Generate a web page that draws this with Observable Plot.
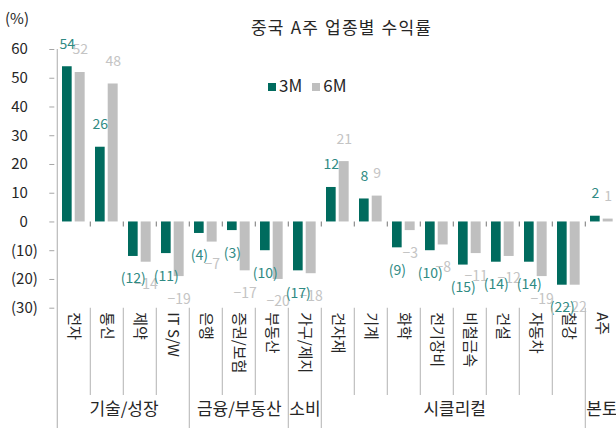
<!DOCTYPE html>
<html>
<head>
<meta charset="utf-8">
<script src="https://cdn.jsdelivr.net/npm/d3@7"></script>
<script src="https://cdn.jsdelivr.net/npm/@observablehq/plot@0.6"></script>
<style>
  html, body { margin: 0; padding: 0; background: #fff; overflow: hidden; }
  #wrap { position: relative; width: 616px; height: 428px; font-family: "Noto Sans CJK KR", "Noto Sans", sans-serif; color: #262626; }
  #wrap svg { position: absolute; left: 0; top: 0; }
  .abs { position: absolute; white-space: nowrap; line-height: 1; }
  .sw { display: inline-block; width: 8px; height: 8px; }
</style>
</head>
<body>
<div id="wrap">
  <div id="chart"></div>
  <div class="abs" style="left:5px; top:10px; font-size:15px;">(%)</div>
  <div class="abs" id="title" style="left:251px; top:18px; font-size:17px; letter-spacing:1.2px; word-spacing:1px;"></div>
  <div class="abs" id="legend" style="left:268px; top:76px; font-size:17px;"></div>
</div>
<script>
const title = "중국 A주 업종별 수익률";
const categories = ["전자","통신","제약","IT S/W","은행","증권/보험","부동산","가구/제지","건자재","기계","화학","전기장비","비철금속","건설","자동차","철강","A주"];
const v3M = [54, 26, -12, -11, -4, -3, -10, -17, 12, 8, -9, -10, -15, -14, -14, -22, 2];
const v6M = [52, 48, -14, -19, -7, -17, -20, -18, 21, 9, -3, -8, -11, -12, -19, -22, 1];
const groups = ["기술/성장", "금융/부동산", "소비", "시클리컬", "본토"];
const groupSizes = [4, 3, 1, 8, 1];
const yTicks = [60, 50, 40, 30, 20, 10, 0, -10, -20, -30];
const seriesNames = ["3M", "6M"];
const colors = { "3M": "#006B5E", "6M": "#BFBFBF" };
const labelColors = { "3M": "#2F8A83", "6M": "#C4C4C4" };

document.getElementById("title").textContent = title;
document.getElementById("legend").innerHTML = seriesNames.map((s, i) =>
  `<span style="margin-right:${i === 0 ? 10 : 0}px"><span class="sw" style="background:${colors[s]}; margin-right:3px; vertical-align:1px"></span>${s}</span>`
).join("");

const W = 616, H = 428;
const mTop = 49, mBottom = 120.3, mLeft = 54.3;
const xRange = [mLeft, 621];
const bw = (xRange[1] - xRange[0]) / categories.length;
const plotH = H - mTop - mBottom;
const yPerPx = 90 / plotH;
const bottomPx = H - mBottom;
const yAt = px => -30 + (bottomPx - px) * yPerPx;

const rows3 = categories.map((c, i) => ({cat: c, v: v3M[i]}));
const rows6 = categories.map((c, i) => ({cat: c, v: v6M[i]}));

const groupStarts = [];
let acc = 0;
groupSizes.forEach(n => { groupStarts.push(acc); acc += n; });
const groupRows = groups.map((g, i) => ({g, start: categories[groupStarts[i]], size: groupSizes[i]}));

const boundaries = categories.map((c, i) => ({cat: c, i, full: groupStarts.includes(i)}));

const fmt3 = v => v < 0 ? `(${Math.abs(v)})` : `${v}`;
const fmt6 = v => v < 0 ? `\u2212${Math.abs(v)}` : `${v}`;

const greenDx = -bw / 2 + 10;
const grayDx = -bw / 2 + 22.85;
const off = 22.5;

const groupMarks = groupRows.map(r =>
  Plot.text([r], { x: "start", text: "g", dx: r.size * bw / 2 - bw / 2, frameAnchor: "bottom", dy: 107, fontSize: 17, fill: "#262626" })
);

const plot = Plot.plot({
  width: W,
  height: H,
  marginTop: mTop,
  marginBottom: mBottom,
  marginLeft: mLeft,
  marginRight: 0,
  style: { fontFamily: "'Noto Sans CJK KR', 'Noto Sans', sans-serif", background: "transparent", overflow: "hidden" },
  x: { domain: categories, range: xRange, padding: 0, axis: null },
  y: { domain: [-30, 60], axis: null },
  marks: [
    Plot.ruleX([categories[0]], { x: d => d, dx: -bw / 2, y1: 60, y2: yAt(H), stroke: "#BFBFBF", strokeWidth: 1.3 }),
    Plot.barY(rows3, { x: "cat", y: "v", fill: colors["3M"], insetLeft: 5, insetRight: bw - 15 }),
    Plot.barY(rows6, { x: "cat", y: "v", fill: colors["6M"], insetLeft: 17.7, insetRight: bw - 28 }),
    Plot.ruleY([0], { x1: categories[0], x2: categories[categories.length - 1], stroke: "#8C8C8C", strokeWidth: 1.3, insetLeft: -bw / 2, insetRight: -bw / 2 }),
    Plot.ruleX(boundaries.filter(d => d.i > 0), { x: "cat", dx: -bw / 2, y1: 0, y2: yAt(226.5), stroke: "#8C8C8C", strokeWidth: 1.2 }),
    Plot.axisY(yTicks.filter(d => d >= 0), { ticks: yTicks.filter(d => d >= 0), tickSize: 5, tickPadding: 22, fontSize: 15, stroke: "#A6A6A6", color: "#262626", tickFormat: d => `${d}`, label: null }),
    Plot.axisY(yTicks.filter(d => d < 0), { ticks: yTicks.filter(d => d < 0), tickSize: 5, tickPadding: 12, fontSize: 15, stroke: "#A6A6A6", color: "#262626", tickFormat: d => `(${Math.abs(d)})`, label: null }),
    Plot.text(rows6.filter(d => d.v >= 0), { x: "cat", y: "v", text: d => fmt6(d.v), dx: grayDx, dy: -off, fill: labelColors["6M"], fontSize: 14 }),
    Plot.text(rows6.filter(d => d.v < 0), { x: "cat", y: "v", text: d => fmt6(d.v), dx: grayDx, dy: off, fill: labelColors["6M"], fontSize: 14 }),
    Plot.text(rows3.filter(d => d.v >= 0), { x: "cat", y: "v", text: d => fmt3(d.v), dx: greenDx, dy: -off, fill: labelColors["3M"], fontSize: 14 }),
    Plot.text(rows3.filter(d => d.v < 0), { x: "cat", y: "v", text: d => fmt3(d.v), dx: greenDx, dy: off, fill: labelColors["3M"], fontSize: 14 }),
    Plot.ruleX(boundaries.filter(d => d.i > 0 && !d.full), { x: "cat", dx: -bw / 2, y1: -30, y2: yAt(395), stroke: "#BFBFBF", strokeWidth: 1.2 }),
    Plot.ruleX(boundaries.filter(d => d.i > 0 && d.full), { x: "cat", dx: -bw / 2, y1: -30, y2: yAt(H), stroke: "#BFBFBF", strokeWidth: 1.2 }),
    Plot.text(categories, { x: d => d, frameAnchor: "bottom", rotate: 90, textAnchor: "start", lineAnchor: "middle", dy: 4, fontSize: 15, fill: "#262626" }),
    ...groupMarks
  ]
});
document.getElementById("chart").appendChild(plot);
</script>
</body>
</html>
